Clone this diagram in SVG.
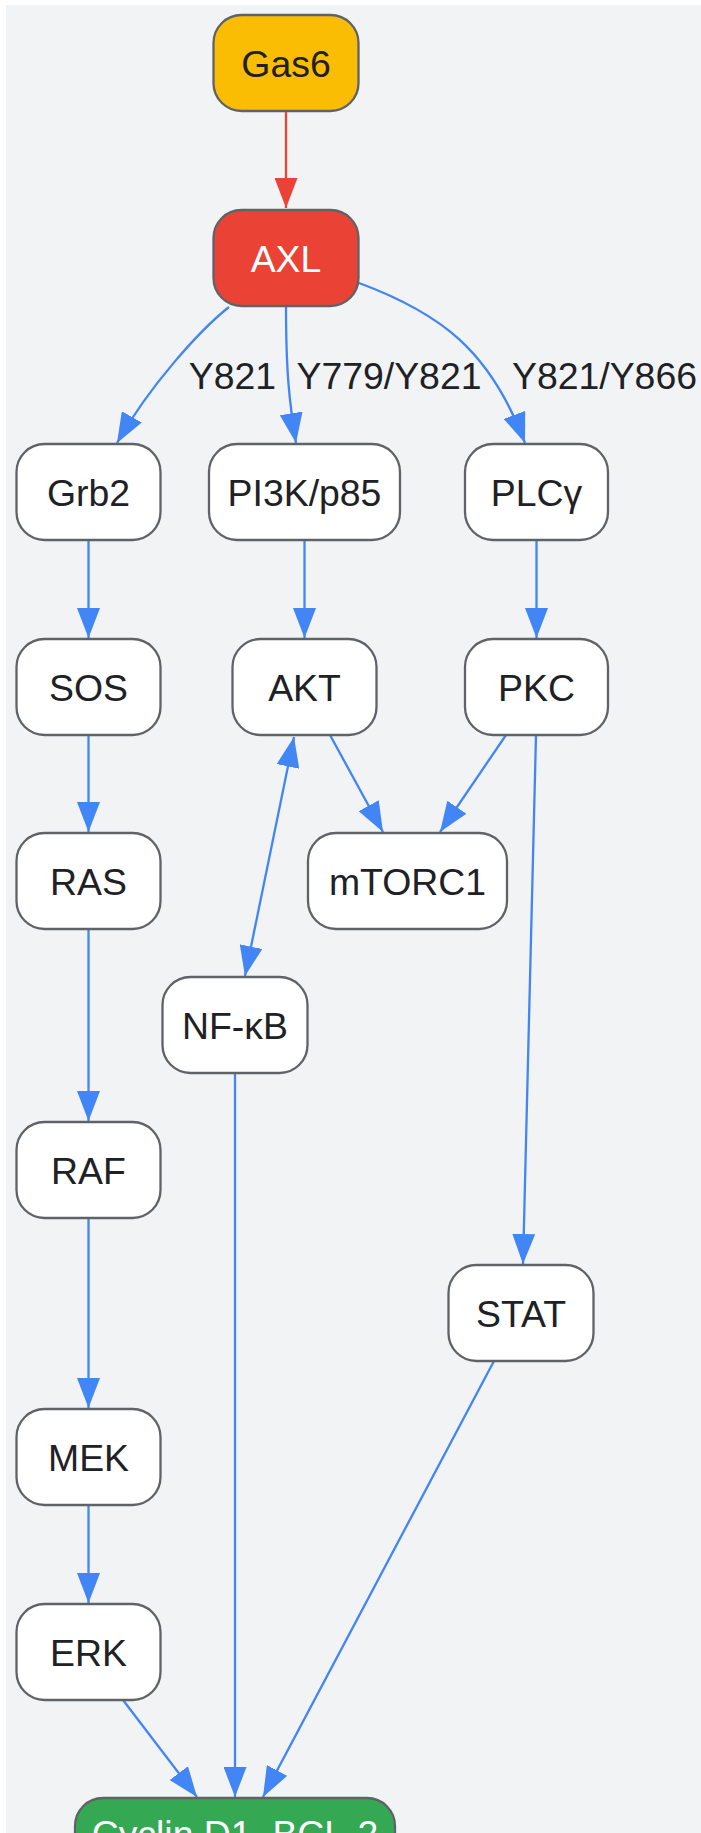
<svg xmlns="http://www.w3.org/2000/svg" width="701" height="1833" viewBox="0 0 701 1833">
<style>
.node rect{stroke:#5f6368;stroke-width:2.3}
.plain rect{fill:#ffffff}
.node text{font-family:"Liberation Sans",Arial,sans-serif;font-size:37.4px;fill:#202124;text-anchor:middle}
.light text{fill:#ffffff}
.edge{fill:none;stroke:#4285f4;stroke-width:2.3}
.red{stroke:#ea4335}
.lbl{font-family:"Liberation Sans",Arial,sans-serif;font-size:37.4px;fill:#202124;text-anchor:middle}
</style>
<defs>
<marker id="ab" viewBox="0 0 10 10" refX="10" refY="5" markerUnits="userSpaceOnUse" markerWidth="30" markerHeight="23" preserveAspectRatio="none" orient="auto-start-reverse"><path d="M0,0 L10,5 L0,10 z" fill="#4285f4"/></marker>
<marker id="ar" viewBox="0 0 10 10" refX="10" refY="5" markerUnits="userSpaceOnUse" markerWidth="30" markerHeight="23" preserveAspectRatio="none" orient="auto"><path d="M0,0 L10,5 L0,10 z" fill="#ea4335"/></marker>
</defs>
<rect x="0" y="0" width="701" height="1833" fill="#ffffff"/>
<rect x="6" y="5" width="695" height="1828" fill="#f1f3f4"/>
<g id="connectors">
<path class="edge red" d="M286,111 L286,208" marker-end="url(#ar)"/>
<path class="edge" d="M229,307 C200,330 150,385 117,443" marker-end="url(#ab)"/>
<path class="edge" d="M286,306 C286,370 289,400 296,443" marker-end="url(#ab)"/>
<path class="edge" d="M359,283 C440,313 490,350 525,443" marker-end="url(#ab)"/>
<path class="edge" d="M88.5,540 L88.5,638" marker-end="url(#ab)"/>
<path class="edge" d="M88.5,735 L88.5,832" marker-end="url(#ab)"/>
<path class="edge" d="M88.5,929 L88.5,1121" marker-end="url(#ab)"/>
<path class="edge" d="M88.5,1218 L88.5,1408" marker-end="url(#ab)"/>
<path class="edge" d="M88.5,1505 L88.5,1603" marker-end="url(#ab)"/>
<path class="edge" d="M304.5,540 L304.5,638" marker-end="url(#ab)"/>
<path class="edge" d="M536.5,540 L536.5,638" marker-end="url(#ab)"/>
<path class="edge" d="M330,735 L383,832" marker-end="url(#ab)"/>
<path class="edge" d="M506,735 L440,832" marker-end="url(#ab)"/>
<path class="edge" d="M536,735 L523,1264" marker-end="url(#ab)"/>
<path class="edge" d="M294,737 L245,976" marker-start="url(#ab)" marker-end="url(#ab)"/>
<path class="edge" d="M235,1073 L235,1797" marker-end="url(#ab)"/>
<path class="edge" d="M123,1700 L197,1797" marker-end="url(#ab)"/>
<path class="edge" d="M494,1361 L263,1797" marker-end="url(#ab)"/>
<text class="lbl" x="232.5" y="389">Y821</text>
<text class="lbl" x="389" y="389">Y779/Y821</text>
<text class="lbl" x="604.5" y="389">Y821/Y866</text>
</g>
<g id="Gas6" class="node"><rect x="213.5" y="15" width="145" height="96" rx="28" fill="#fbbc04"/><text x="286" y="76.5">Gas6</text></g>
<g id="AXL" class="node light"><rect x="213.5" y="210" width="145" height="96" rx="28" fill="#ea4335"/><text x="286" y="271.5">AXL</text></g>
<g id="Grb2" class="node plain"><rect x="16.5" y="444" width="144" height="96" rx="28"/><text x="88.5" y="505.5">Grb2</text></g>
<g id="PI3K" class="node plain"><rect x="209" y="444" width="191" height="96" rx="28"/><text x="304.5" y="505.5">PI3K/p85</text></g>
<g id="PLCg" class="node plain"><rect x="465" y="444" width="143" height="96" rx="28"/><text x="536.5" y="505.5">PLCγ</text></g>
<g id="SOS" class="node plain"><rect x="16.5" y="639" width="144" height="96" rx="28"/><text x="88.5" y="700.5">SOS</text></g>
<g id="AKT" class="node plain"><rect x="232.5" y="639" width="144" height="96" rx="28"/><text x="304.5" y="700.5">AKT</text></g>
<g id="PKC" class="node plain"><rect x="465" y="639" width="143" height="96" rx="28"/><text x="536.5" y="700.5">PKC</text></g>
<g id="RAS" class="node plain"><rect x="16.5" y="833" width="144" height="96" rx="28"/><text x="88.5" y="894.5">RAS</text></g>
<g id="mTORC1" class="node plain"><rect x="308" y="833" width="199" height="96" rx="28"/><text x="407.5" y="894.5">mTORC1</text></g>
<g id="NFkB" class="node plain"><rect x="162.5" y="977" width="145" height="96" rx="28"/><text x="235" y="1038.5">NF-κB</text></g>
<g id="RAF" class="node plain"><rect x="16.5" y="1122" width="144" height="96" rx="28"/><text x="88.5" y="1183.5">RAF</text></g>
<g id="STAT" class="node plain"><rect x="448.5" y="1265" width="145" height="96" rx="28"/><text x="521" y="1326.5">STAT</text></g>
<g id="MEK" class="node plain"><rect x="16.5" y="1409" width="144" height="96" rx="28"/><text x="88.5" y="1470.5">MEK</text></g>
<g id="ERK" class="node plain"><rect x="16.5" y="1604" width="144" height="96" rx="28"/><text x="88.5" y="1665.5">ERK</text></g>
<g id="Cyclin" class="node light"><rect x="75" y="1798" width="320" height="96" rx="28" fill="#34a853"/><text x="235" y="1847">Cyclin D1, BCL-2</text></g>
</svg>
